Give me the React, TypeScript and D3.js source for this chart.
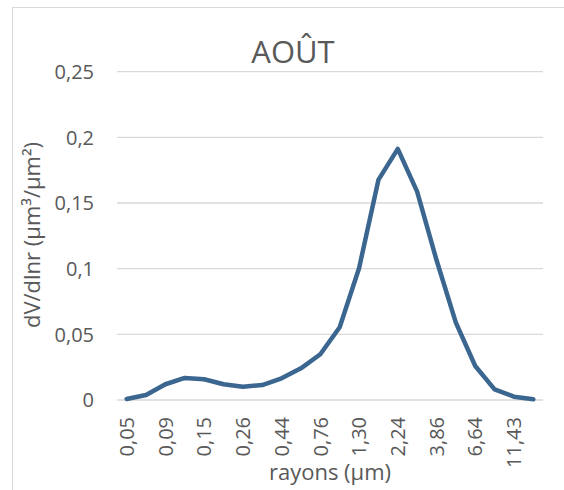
import React from "react";
import * as d3 from "d3";

const categories = [
  "0,05", "0,07", "0,09", "0,11", "0,15", "0,20", "0,26", "0,34", "0,44", "0,58", "0,76",
  "0,99", "1,30", "1,70", "2,24", "2,94", "3,86", "5,06", "6,64", "8,71", "11,43", "15,00",
];
const values = [
  0.0008, 0.0038, 0.012, 0.0168, 0.0158, 0.012, 0.0101, 0.0114, 0.0165, 0.0241, 0.0348,
  0.0554, 0.1003, 0.1676, 0.1912, 0.1587, 0.1066, 0.0589, 0.0259, 0.0081, 0.0025, 0.0005,
];
const yTicks = [0, 0.05, 0.1, 0.15, 0.2, 0.25];
const title = "AOÛT";
const xTitle = "rayons (µm)";
const yTitle = "dV/dlnr (µm³/µm²)";

const W = 564;
const H = 490;
const FONT = "'Open Sans', sans-serif";
const TXT = "#595959";
const GRID = "#d9d9d9";
const LINE = "#3b6690";

export default function App() {
  const x = d3.scaleBand<number>().domain(d3.range(categories.length)).range([117, 543]);
  const y = d3.scaleLinear().domain([0, 0.25]).range([400, 71.7]);
  const fmt = (v: number) => (v === 0 ? "0" : String(+v.toFixed(2)).replace(".", ","));
  const line = d3
    .line<number>()
    .x((_, i) => (x(i) as number) + x.bandwidth() / 2)
    .y((d) => y(d));

  return (
    <svg width={W} height={H} style={{ position: "absolute", left: 0, top: 0 }} fontFamily={FONT}>
      <rect x={0} y={0} width={W} height={H} fill="#fff" />
      <rect x={12.5} y={7.5} width={W + 20} height={H + 20} fill="#fff" stroke={GRID} strokeWidth={1} />
      {yTicks.map((t) => (
        <g key={t}>
          <line x1={117} x2={543} y1={y(t)} y2={y(t)} stroke={GRID} strokeWidth={1.3} />
          <text x={94} y={y(t)} dy="0.36em" textAnchor="end" fontSize={20} fill={TXT}>
            {fmt(t)}
          </text>
        </g>
      ))}
      {categories.map((c, i) =>
        i % 2 === 0 ? (
          <text
            key={c}
            transform={`translate(${(x(i) as number) + x.bandwidth() / 2},417) rotate(-90)`}
            textAnchor="end"
            dy="0.36em"
            fontSize={20}
            fill={TXT}
          >
            {c}
          </text>
        ) : null
      )}
      <path
        d={line(values) as string}
        fill="none"
        stroke={LINE}
        strokeWidth={4.5}
        strokeLinejoin="round"
        strokeLinecap="round"
      />
      <text x={293} y={63} textAnchor="middle" fontSize={31} fill={TXT}>
        {title}
      </text>
      <text x={330} y={480} textAnchor="middle" fontSize={22} fill={TXT}>
        {xTitle}
      </text>
      <text transform="translate(40,235) rotate(-90)" textAnchor="middle" fontSize={22} fill={TXT}>
        {yTitle}
      </text>
    </svg>
  );
}
